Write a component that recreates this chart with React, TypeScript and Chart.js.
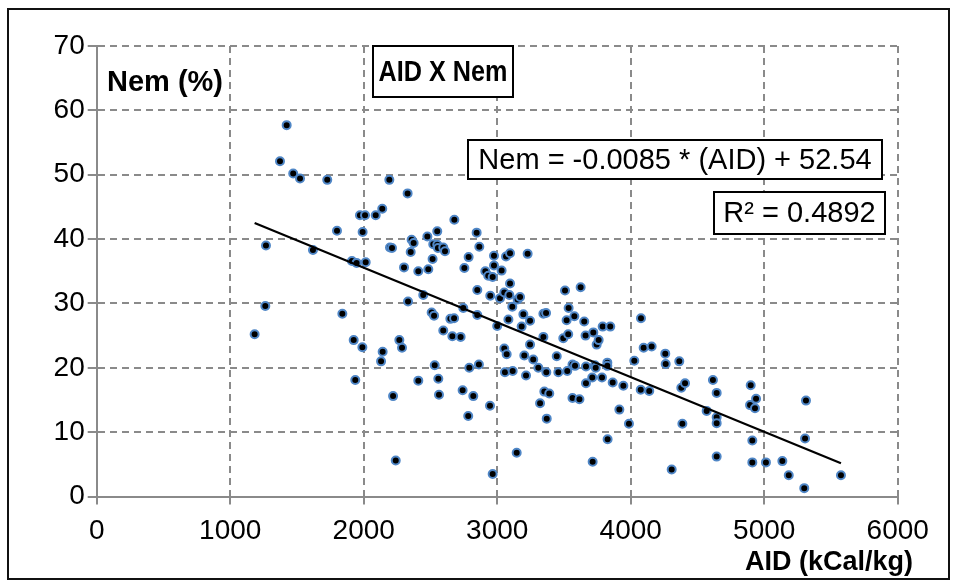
import React, { useEffect, useRef } from "react";
import { Chart, registerables } from "chart.js";

Chart.register(...registerables);

const FONT = '"Liberation Sans", Arial, Helvetica, sans-serif';

// AID (kCal/kg) per sample
const AID = [
  1183, 1263, 1268, 1373, 1423, 1472, 1523, 1620, 1727, 1800,
  1840, 1912, 1925, 1937, 1947, 1972, 1990, 1992, 2010, 2015,
  2090, 2130, 2139, 2142, 2192, 2197, 2212, 2220, 2240, 2267,
  2287, 2302, 2329, 2332, 2352, 2359, 2374, 2409, 2409, 2446,
  2477, 2484, 2509, 2521, 2516, 2527, 2532, 2551, 2551, 2556,
  2559, 2564, 2596, 2609, 2596, 2649, 2677, 2664, 2679, 2726,
  2741, 2746, 2754, 2783, 2786, 2791, 2821, 2846, 2851, 2851,
  2863, 2866, 2911, 2933, 2946, 2948, 2966, 2966, 2976, 2976,
  3000, 3021, 3033, 3053, 3053, 3058, 3066, 3071, 3084, 3091,
  3096, 3096, 3113, 3116, 3146, 3153, 3171, 3183, 3196, 3203,
  3216, 3228, 3246, 3246, 3270, 3308, 3321, 3346, 3366, 3346,
  3353, 3368, 3371, 3390, 3446, 3458, 3495, 3508, 3520, 3525,
  3532, 3535, 3564, 3564, 3578, 3583, 3616, 3625, 3652, 3662,
  3665, 3665, 3712, 3715, 3720, 3732, 3738, 3745, 3760, 3785,
  3790, 3825, 3825, 3827, 3847, 3865, 3915, 3945, 3987, 4027,
  4077, 4075, 4097, 4139, 4157, 4259, 4262, 4307, 4364, 4379,
  4387, 4407, 4569, 4616, 4644, 4644, 4644, 4644, 4894, 4899,
  4911, 4911, 4931, 4939, 5013, 5136, 5184, 5300, 5306, 5313,
  5575,
];

// Nem (%) per sample, same order as AID
const NEM = [
  25.2, 29.6, 39.0, 52.1, 57.7, 50.2, 49.4, 38.3, 49.2, 41.3,
  28.4, 36.6, 24.3, 18.1, 36.3, 43.7, 23.2, 41.1, 43.7, 36.4,
  43.7, 21.0, 44.7, 22.5, 49.2, 38.7, 38.6, 15.6, 5.6, 24.3,
  23.1, 35.6, 47.1, 30.3, 38.0, 39.9, 39.4, 35.0, 18.0, 31.3,
  40.4, 35.3, 28.6, 39.2, 36.9, 28.1, 20.4, 41.2, 39.1, 38.6,
  18.3, 15.8, 38.7, 38.1, 25.8, 27.6, 27.7, 24.9, 43.0, 24.8,
  16.5, 29.3, 35.5, 12.5, 37.2, 20.0, 15.6, 41.0, 32.1, 28.2,
  20.5, 38.8, 35.0, 34.3, 14.1, 31.2, 34.1, 3.5, 37.4, 35.9,
  26.5, 30.8, 35.1, 31.7, 23.0, 19.3, 37.3, 22.1, 27.5, 31.3,
  37.8, 33.1, 29.5, 19.5, 6.8, 30.6, 31.0, 26.4, 28.3, 21.9,
  18.8, 37.7, 27.3, 23.6, 21.3, 20.0, 14.5, 28.4, 28.5, 24.8,
  16.3, 19.3, 12.1, 16.0, 21.8, 19.3, 24.6, 32.0, 27.4, 19.5,
  25.2, 29.3, 20.5, 15.3, 28.0, 20.3, 15.1, 32.5, 27.2, 25.0,
  20.2, 17.6, 18.5, 5.4, 25.5, 20.4, 20.0, 23.6, 24.3, 18.5,
  26.4, 20.8, 20.3, 8.9, 26.4, 17.7, 13.5, 17.2, 11.3, 21.1,
  27.7, 16.6, 23.1, 16.4, 23.3, 22.2, 20.6, 4.2, 21.0, 16.9,
  11.3, 17.6, 13.3, 18.1, 16.1, 12.3, 11.4, 6.2, 14.2, 17.3,
  8.7, 5.3, 13.7, 15.2, 5.3, 5.5, 3.3, 1.3, 9.0, 14.9,
  3.3,
];

// Linear trend: Nem = SLOPE * AID + INTERCEPT
const SLOPE = -0.0085;
const INTERCEPT = 52.54;
const R2 = "0.4892";

const X_MIN = 0;
const X_MAX = 6000;
const X_STEP = 1000;
const Y_MIN = 0;
const Y_MAX = 70;
const Y_STEP = 10;

const CHART_TITLE = "AID X Nem";
const X_TITLE = "AID (kCal/kg)";
const Y_TITLE = "Nem (%)";
const EQUATION = `Nem = ${SLOPE} * (AID) + ${INTERCEPT}`;
const R2_TEXT = `R² = ${R2}`;

const GRID = "#8a8a8a";

// Text drawn centred at (cx, cy) with an optional horizontal squeeze
function drawText(
  ctx: CanvasRenderingContext2D,
  text: string,
  cx: number,
  cy: number,
  font: string,
  align: CanvasTextAlign = "center",
  sx = 1
) {
  ctx.save();
  ctx.font = font;
  ctx.fillStyle = "#000";
  ctx.textAlign = align;
  ctx.textBaseline = "middle";
  ctx.translate(cx, cy);
  ctx.scale(sx, 1);
  ctx.fillText(text, 0, 0);
  ctx.restore();
}

function box(ctx: CanvasRenderingContext2D, x: number, y: number, w: number, h: number) {
  ctx.fillStyle = "#fff";
  ctx.fillRect(x, y, w, h);
  ctx.strokeStyle = "#000";
  ctx.lineWidth = 2;
  ctx.strokeRect(x, y, w, h);
}

const overlayPlugin = {
  id: "overlayText",
  afterDraw(chart: any) {
    const ctx: CanvasRenderingContext2D = chart.ctx;
    ctx.save();
    // outer frame
    ctx.strokeStyle = "#111";
    ctx.lineWidth = 2;
    ctx.strokeRect(8, 9, 941, 570);

    box(ctx, 373, 46, 140, 51);
    drawText(ctx, CHART_TITLE, 443, 72.5, `bold 30px ${FONT}`, "center", 0.84);

    box(ctx, 468, 140, 414, 39);
    drawText(ctx, EQUATION, 675, 160.5, `29px ${FONT}`);

    box(ctx, 714, 192, 171, 42);
    drawText(ctx, R2_TEXT, 799.5, 213.5, `29px ${FONT}`);

    drawText(ctx, Y_TITLE, 107, 83, `bold 29px ${FONT}`, "left");
    drawText(ctx, X_TITLE, 913, 563, `bold 27px ${FONT}`, "right");
    ctx.restore();
  },
};

export default function App() {
  const canvasRef = useRef<HTMLCanvasElement | null>(null);

  useEffect(() => {
    if (!canvasRef.current) return;
    const points = AID.map((x, i) => ({ x, y: NEM[i] }));
    const xLo = Math.min(...AID);
    const xHi = Math.max(...AID);
    const trend = [
      { x: xLo, y: SLOPE * xLo + INTERCEPT },
      { x: xHi, y: SLOPE * xHi + INTERCEPT },
    ];

    const tickFont = { family: FONT, size: 28 };
    const plain = (v: any) => String(v);

    const chart = new Chart(canvasRef.current, {
      type: "scatter",
      data: {
        datasets: [
          {
            type: "line",
            data: trend,
            borderColor: "#000",
            borderWidth: 2.2,
            pointRadius: 0,
            fill: false,
            tension: 0,
          } as any,
          {
            data: points,
            pointRadius: 4,
            pointBackgroundColor: "#000",
            pointBorderColor: "#4f86c6",
            pointBorderWidth: 2,
            showLine: false,
          },
        ],
      },
      options: {
        responsive: false,
        animation: false,
        events: [],
        layout: { padding: { left: 0, top: 46, right: 60.3, bottom: 0 } },
        plugins: {
          legend: { display: false },
          tooltip: { enabled: false },
          title: { display: false },
        },
        scales: {
          x: {
            type: "linear",
            min: X_MIN,
            max: X_MAX,
            ticks: {
              stepSize: X_STEP,
              color: "#000",
              font: tickFont,
              padding: 10,
              maxRotation: 0,
              callback: plain,
            },
            grid: {
              color: GRID,
              lineWidth: 2,
              tickLength: 8,
              tickColor: GRID,
              tickWidth: 2,
              tickBorderDash: [],
            },
            border: { color: GRID, width: 2, dash: [7, 5] },
            afterFit: (s: any) => {
              s.height = 84.5;
            },
          },
          y: {
            type: "linear",
            min: Y_MIN,
            max: Y_MAX,
            ticks: {
              stepSize: Y_STEP,
              color: "#000",
              font: tickFont,
              padding: 3,
              callback: plain,
            },
            grid: {
              color: GRID,
              lineWidth: 2,
              tickLength: 9,
              tickColor: GRID,
              tickWidth: 2,
              tickBorderDash: [],
            },
            border: { color: GRID, width: 2, dash: [7, 5] },
            afterFit: (s: any) => {
              s.width = 96.7;
            },
          },
        },
      },
      plugins: [overlayPlugin],
    } as any);

    return () => chart.destroy();
  }, []);

  return (
    <div
      style={{
        position: "fixed",
        left: 0,
        top: 0,
        width: 958,
        height: 581,
        background: "#fff",
      }}
    >
      <canvas
        ref={canvasRef}
        width={958}
        height={581}
        style={{ display: "block", width: 958, height: 581 }}
      />
    </div>
  );
}
